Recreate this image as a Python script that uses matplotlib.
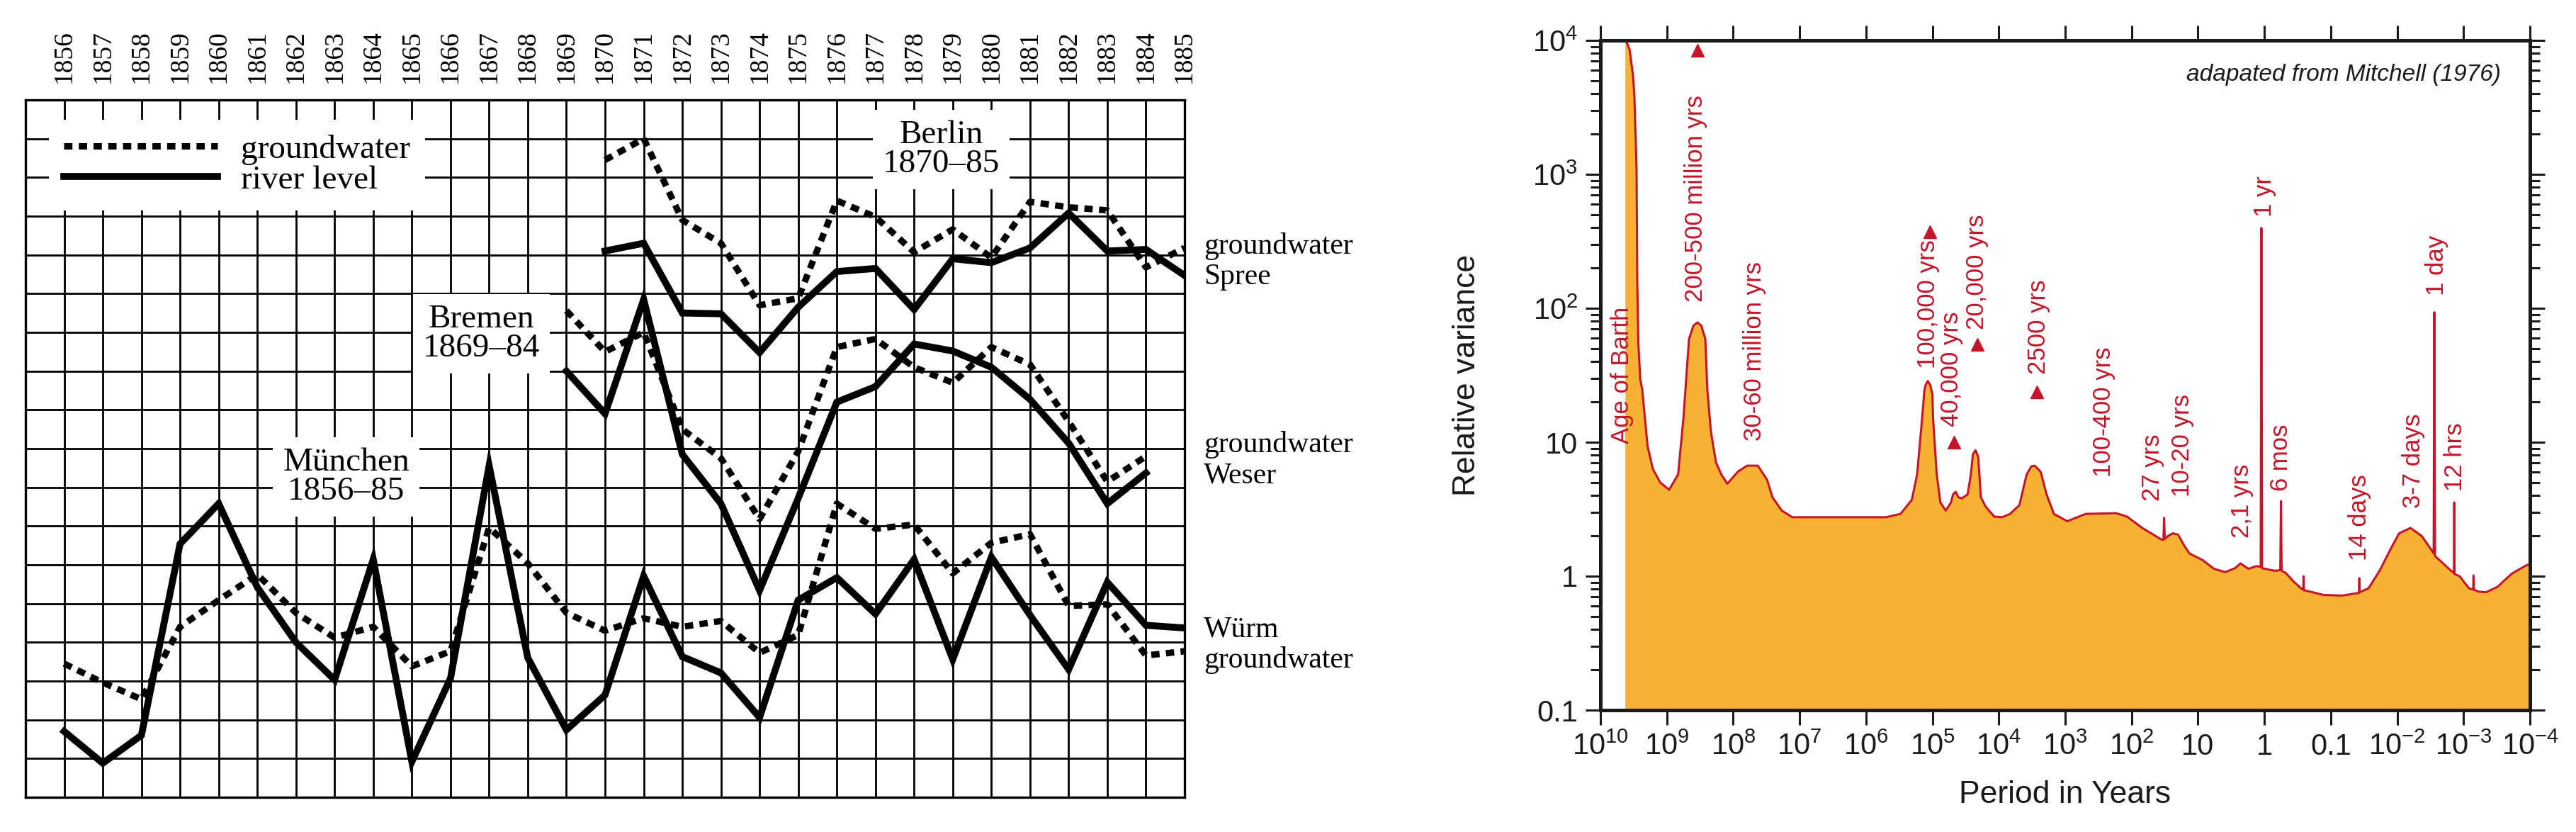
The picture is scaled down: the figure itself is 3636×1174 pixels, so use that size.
import matplotlib
matplotlib.use('Agg')
import matplotlib.pyplot as plt
import numpy as np
from matplotlib.ticker import NullLocator, LogLocator, NullFormatter

plt.rcParams['font.family'] = ['Liberation Sans', 'DejaVu Sans']
plt.rcParams['mathtext.fontset'] = 'custom'
plt.rcParams['mathtext.rm'] = 'Liberation Sans'
plt.rcParams['mathtext.it'] = 'Liberation Sans:italic'
plt.rcParams['mathtext.bf'] = 'Liberation Sans:bold'

# ---------------- Left chart data (values in grid units) ----------------
years_muenchen = list(range(1856, 1886))
muenchen_river = [1.70, 0.88, 1.60, 6.54, 7.58, 5.42, 4.00, 3.03, 6.14, 0.92,
                  3.07, 8.56, 3.60, 1.74, 2.64, 5.71, 3.63, 3.21, 2.06, 5.09,
                  5.67, 4.73, 6.14, 3.56, 6.20, 4.70, 3.30, 5.55, 4.44, 4.37]
muenchen_ground = [3.45, 2.96, 2.53, 4.40, 5.09, 5.75, 4.76, 4.12, 4.40, 3.38,
                   3.77, 6.96, 6.04, 4.76, 4.30, 4.62, 4.40, 4.55, 3.73, 4.19,
                   7.58, 6.93, 7.04, 5.78, 6.57, 6.79, 4.94, 4.98, 3.66, 3.77]
years_bremen = list(range(1869, 1885))
bremen_river = [11.0, 9.9, 12.85, 8.85, 7.58, 5.34, 7.72, 10.2,
                10.6, 11.7, 11.52, 11.1, 10.27, 9.14, 7.58, 8.37]
bremen_ground = [12.56, 11.5, 12.0, 9.5, 8.75, 7.18, 8.93, 11.62,
                 11.83, 11.1, 10.7, 11.62, 11.17, 9.7, 8.15, 8.8]
years_berlin = list(range(1870, 1886))
berlin_river = [14.1, 14.3, 12.5, 12.48, 11.48, 12.65, 13.57, 13.65,
                12.59, 13.9, 13.8, 14.18, 15.08, 14.1, 14.14, 13.47]
berlin_ground = [16.45, 17.0, 14.9, 14.3, 12.7, 12.88, 15.4, 14.98,
                 14.07, 14.66, 13.93, 15.37, 15.23, 15.15, 13.68, 14.18]
year_labels = [str(y) for y in range(1856, 1886)]

city_labels = ['Berlin\n1870–85', 'Bremen\n1869–84', 'München\n1856–85']
city_x = [1878.7, 1866.8, 1863.3]
city_y = [16.72, 11.96, 8.27]
side_labels = ['groundwater\nSpree', 'groundwater\nWeser', 'Würm\ngroundwater']
side_y = [13.83, 8.70, 3.93]

# ---------------- Right chart data (log10 period in years, log10 relative variance) ----------------
period_exp = [9.63, 9.615, 9.56, 9.51, 9.49, 9.465, 9.456, 9.445, 9.43, 9.40, 9.37, 9.29, 9.21, 9.10, 8.965,
              8.83, 8.75, 8.72,
              8.666, 8.60, 8.54, 8.48, 8.42, 8.39, 8.335, 8.26, 8.18, 8.09, 7.93, 7.79, 7.63, 7.49, 7.41,
              7.27, 7.11, 6.50, 5.70, 5.48, 5.31, 5.23, 5.155, 5.12, 5.10, 5.07, 5.035, 5.00, 4.99, 4.935,
              4.88, 4.80, 4.72, 4.69, 4.65, 4.61, 4.56, 4.47, 4.42, 4.39, 4.35, 4.31, 4.27, 4.20, 4.07,
              3.95, 3.83, 3.69, 3.58, 3.51, 3.46, 3.37, 3.28, 3.17, 2.97, 2.69, 2.23, 2.07, 1.84, 1.555,
              1.52, 1.51, 1.50, 1.45, 1.38, 1.30, 1.21, 1.13, 0.93, 0.76, 0.59, 0.44, 0.36, 0.24, 0.12,
              0.055, 0.045, 0.035, -0.01, -0.155, -0.24, -0.25, -0.26, -0.32, -0.44, -0.55, -0.585, -0.59,
              -0.595, -0.64, -0.89, -1.17, -1.425, -1.43, -1.435, -1.57, -1.74, -1.91, -2.03, -2.20, -2.37,
              -2.51, -2.55, -2.56, -2.57, -2.66, -2.80, -2.855, -2.86, -2.865, -2.94, -3.08, -3.145, -3.15,
              -3.155, -3.22, -3.34, -3.51, -3.73, -3.96, -4.00]
variance_exp = [4.30, 4.0, 3.93, 3.74, 3.60, 3.20, 3.03, 2.20, 1.75, 1.47, 1.39, 0.97, 0.80, 0.70, 0.645,
                0.76, 1.18, 1.39,
                1.77, 1.87, 1.894, 1.87, 1.77, 1.39, 1.075, 0.85, 0.76, 0.69, 0.78, 0.825, 0.825, 0.72, 0.59,
                0.49, 0.44, 0.44, 0.44, 0.465, 0.57, 0.76, 1.18, 1.39, 1.43, 1.457, 1.43, 1.36, 1.18, 0.76,
                0.55, 0.49, 0.55, 0.61, 0.63, 0.59, 0.58, 0.61, 0.76, 0.91, 0.94, 0.89, 0.59, 0.52, 0.445,
                0.44, 0.465, 0.53, 0.76, 0.82, 0.825, 0.78, 0.61, 0.465, 0.41, 0.465, 0.47, 0.445, 0.36, 0.275,
                0.27, 0.435, 0.28, 0.30, 0.32, 0.31, 0.23, 0.17, 0.12, 0.055, 0.03, 0.06, 0.095, 0.055, 0.075,
                0.07, 2.60, 0.06, 0.055, 0.04, 0.045, 0.56, 0.04, 0.025, -0.04, -0.09, -0.10, 0.0,
                -0.105, -0.11, -0.14, -0.145, -0.125, -0.015, -0.12, -0.09, 0.045, 0.21, 0.32, 0.36, 0.30,
                0.20, 0.17, 1.97, 0.15, 0.11, 0.045, 0.025, 0.55, 0.015, 0.0, -0.09, -0.10, 0.005,
                -0.10, -0.115, -0.12, -0.08, 0.02, 0.085, 0.085]

annot_text = ['Age of Barth', '200-500 million yrs', '30-60 million yrs', '100,000 yrs', '40,000 yrs',
              '20,000 yrs', '2500 yrs', '100-400 yrs', '27 yrs', '10-20 yrs', '2,1 yrs', '1 yr', '6 mos',
              '14 days', '3-7 days', '1 day', '12 hrs']
annot_period = [4.7e9, 3.7e8, 4.8e7, 1.17e5, 5.2e4, 2.14e4, 2.5e3, 261, 48.5, 17.3, 2.2, 0.98, 0.56,
                0.037, 0.0057, 0.0025, 0.00133]
annot_value = [9.8, 112, 10.3, 35.5, 13.1, 69, 32.2, 5.5, 3.64, 3.92, 1.93, 482, 4.3, 1.31, 3.22, 124, 4.3]
marker_period = [3.45e8, 1.08e5, 4.73e4, 2.09e4, 2.69e3]
marker_value = [8440, 372, 10.05, 53.7, 23.8]

x_ticks = [1e10, 1e9, 1e8, 1e7, 1e6, 1e5, 1e4, 1e3, 1e2, 1e1, 1e0, 1e-1, 1e-2, 1e-3, 1e-4]
x_labels = ['10$^{10}$', '10$^{9}$', '10$^{8}$', '10$^{7}$', '10$^{6}$', '10$^{5}$', '10$^{4}$',
            '10$^{3}$', '10$^{2}$', '10', '1', '0.1', '10$^{-2}$', '10$^{-3}$', '10$^{-4}$']
y_ticks = [0.1, 1, 10, 100, 1000, 10000]
y_labels = ['0.1', '1', '10', '10$^{2}$', '10$^{3}$', '10$^{4}$']

# ---------------- Figure ----------------
W, H = 3636, 1174
fig = plt.figure(figsize=(W / 100, H / 100), dpi=100)

# ===== Left chart =====
serif = 'Liberation Serif'
ax1 = fig.add_axes([36 / W, 1 - 1125 / H, 1636 / W, 984 / H])
ax1.set_xlim(1855, 1885)
ax1.set_ylim(0, 18)
ax1.set_xticks(range(1856, 1886))
ax1.set_xticklabels(year_labels, rotation=90, family=serif, fontsize=27)
ax1.set_yticks(range(1, 18))
ax1.xaxis.tick_top()
ax1.tick_params(axis='x', length=0, pad=17)
ax1.tick_params(axis='y', length=0, labelleft=False)
ax1.grid(True, color='black', lw=2.0)
ax1.set_axisbelow(True)
for s in ax1.spines.values():
    s.set_linewidth(2.4)
    s.set_color('black')

dot = (0, (1.3, 1.0))
lw_s, lw_d = 7.0, 6.5
for yrs, gw, rv in [(years_muenchen, muenchen_ground, muenchen_river),
                    (years_bremen, bremen_ground, bremen_river),
                    (years_berlin, berlin_ground, berlin_river)]:
    hd, = ax1.plot(yrs, gw, color='black', lw=lw_d, ls=dot, zorder=4)
    hs, = ax1.plot(yrs, rv, color='black', lw=lw_s, zorder=4, solid_joinstyle='miter')

for t, x, y in zip(city_labels, city_x, city_y):
    ax1.text(x, y, t, ha='center', va='center', family=serif, fontsize=34, linespacing=0.95,
             zorder=3, bbox=dict(facecolor='white', edgecolor='none', boxstyle='square,pad=0.3'))

for t, y in zip(side_labels, side_y):
    ax1.text(1885.5, y, t, ha='left', va='center', family=serif, fontsize=30,
             linespacing=1.15, clip_on=False)

leg = ax1.legend([hd, hs], ['groundwater', 'river level'], loc='upper left',
                 bbox_to_anchor=(0.02, 0.972), prop={'family': serif, 'size': 34},
                 handlelength=4.6, handletextpad=0.7, labelspacing=0.0, borderpad=0.45,
                 borderaxespad=0, frameon=True, fancybox=False, framealpha=1.0)
leg.get_frame().set_edgecolor('none')
leg.get_frame().set_facecolor('white')
leg.set_zorder(5)

# ===== Right chart =====
orange = '#F7B133'
red = '#C4152A'
ax2 = fig.add_axes([2259 / W, 1 - 1002 / H, 1312 / W, 945 / H])
ax2.set_xscale('log')
ax2.set_yscale('log')
ax2.set_xlim(1e10, 1e-4)
ax2.set_ylim(0.1, 1e4)

P = 10 ** np.array(period_exp)
V = 10 ** np.array(variance_exp)
ax2.fill_between(P, 0.1, V, color=orange, lw=0, zorder=1)
ax2.plot(P, V, color=red, lw=2.2, zorder=2, solid_joinstyle='round')

ax2.plot(marker_period, marker_value, ls='none', marker='^', ms=13, color=red, zorder=3)
for t, xp, yv in zip(annot_text, annot_period, annot_value):
    ax2.text(xp, yv, t, rotation=90, ha='center', va='bottom', color=red, fontsize=25, zorder=3)

ax2.text(0.969, 0.949, 'adapated from Mitchell (1976)', transform=ax2.transAxes, ha='right',
         va='center', fontsize=24, style='italic', color='#1a1a1a')

ax2.set_xticks(x_ticks)
ax2.set_xticklabels(x_labels)
ax2.xaxis.set_minor_locator(NullLocator())
ax2.tick_params(axis='x', which='major', direction='out', length=15, width=2.2, top=True,
                bottom=True, labelsize=30, pad=8, colors='#1a1a1a')
ax2.set_yticks(y_ticks)
ax2.set_yticklabels(y_labels)
ax2.yaxis.set_minor_locator(LogLocator(base=10, subs=(2, 3, 4, 5, 6, 7, 8, 9), numticks=100))
ax2.yaxis.set_minor_formatter(NullFormatter())
ax2.tick_params(axis='y', which='major', direction='out', length=15, width=2.2, left=True,
                right=True, labelsize=30, pad=8, colors='#1a1a1a')
ax2.tick_params(axis='y', which='minor', direction='out', length=10, width=2.2, left=True,
                right=True, colors='#1a1a1a')
for s in ax2.spines.values():
    s.set_linewidth(3.6)
    s.set_color('#1a1a1a')

ax2.set_ylabel('Relative variance', fontsize=32, color='#1a1a1a')
ax2.yaxis.set_label_coords(-0.128, 0.5)
ax2.set_xlabel('Period in Years', fontsize=32, color='#1a1a1a')
ax2.xaxis.set_label_coords(0.5, -0.105)

fig.savefig('out.png', dpi=100)
